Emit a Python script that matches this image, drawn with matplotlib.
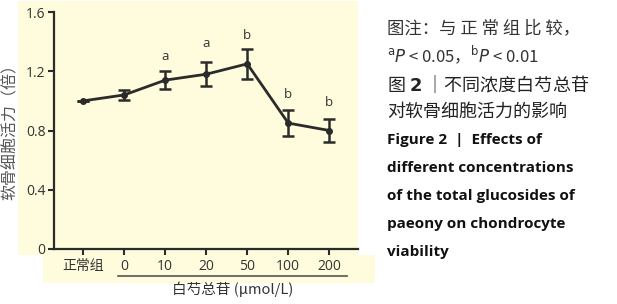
import matplotlib
matplotlib.use("Agg")
import matplotlib.pyplot as plt
from matplotlib.patches import Rectangle
from matplotlib.lines import Line2D

plt.rcParams['font.family'] = ['Noto Sans CJK SC', 'DejaVu Sans']

categories = ["正常组", "0", "10", "20", "50", "100", "200"]
values = [1.00, 1.04, 1.14, 1.18, 1.25, 0.85, 0.80]
errors = [0.0, 0.035, 0.06, 0.08, 0.10, 0.09, 0.08]
sig_labels = ["", "", "a", "a", "b", "b", "b"]
sig_y = [None, None, 1.30, 1.39, 1.44, 1.04, 0.99]
yticks = [0, 0.4, 0.8, 1.2, 1.6]
ytick_labels = ["0", "0.4", "0.8", "1.2", "1.6"]

W, H = 617, 304
fig = plt.figure(figsize=(W / 100, H / 100), dpi=100)
fig.patch.set_facecolor("white")

def fx(px):
    return px / W

def fy(py):
    return 1 - py / H

yellow = "#fefcdc"
# background panels
fig.patches.append(Rectangle((fx(18), fy(255)), fx(358) - fx(18), fy(1) - fy(255),
                             transform=fig.transFigure, facecolor=yellow, edgecolor="none", zorder=-10))
fig.patches.append(Rectangle((fx(43), fy(283)), fx(375) - fx(43), fy(255) - fy(283),
                             transform=fig.transFigure, facecolor=yellow, edgecolor="none", zorder=-10))

ax = fig.add_axes([fx(54), fy(249), fx(358) - fx(54), fy(12) - fy(249)])
ax.set_facecolor("none")
ax.set_zorder(5)
dark = "#2b2b2b"
txt = "#333333"

x = list(range(len(categories)))
ax.errorbar(x, values, yerr=errors, color=dark, lw=2.0, elinewidth=1.8,
            capsize=4, capthick=1.8, marker="o", markersize=4, zorder=3)
for xi, lab, yy in zip(x, sig_labels, sig_y):
    if lab:
        ax.text(xi, yy, lab, ha="center", va="center", fontsize=9.5,
                family="Open Sans", color=txt)

ax.set_xlim(-0.71, 6.7)
ax.set_ylim(0, 1.6)
ax.set_yticks(yticks)
ax.set_yticklabels(ytick_labels, family="Open Sans", fontsize=10, color=txt)
ax.set_xticks(x)
ax.set_xticklabels(categories, fontsize=10, color=txt, family=["Open Sans", "Noto Sans CJK SC"])
for s in ["top", "right"]:
    ax.spines[s].set_visible(False)
for s in ["left", "bottom"]:
    ax.spines[s].set_color(dark)
    ax.spines[s].set_linewidth(1.6)
ax.tick_params(axis="both", direction="out", length=4, width=1.5, color=dark, pad=2)
ax.tick_params(axis="x", pad=3)

fig.text(fx(10), fy(128), "软骨细胞活力（倍）", rotation=90, fontsize=11.5, color="#555555",
         ha="center", va="center")

# underline and x label
fig.add_artist(Line2D([fx(118), fx(347)], [fy(276), fy(276)], transform=fig.transFigure,
                      color="#555555", lw=1.2))
fig.text(fx(233), fy(289), "白芍总苷 (μmol/L)", ha="center", va="center", fontsize=10.5,
         color=txt, family=["Noto Sans CJK SC", "DejaVu Sans"])

# right side caption
x0 = fx(387)
fig.text(x0, fy(28), "图注：与 正 常 组 比 较，", fontsize=12.5, color=txt, va="center", ha="left")
fig.text(x0, fy(55), r"$^{\mathrm{a}}$$\it{P}$ < 0.05，$^{\mathrm{b}}$$\it{P}$ < 0.01", fontsize=12,
         color=txt, va="center", ha="left")
fig.text(x0, fy(84), "图 $\\mathbf{2}$ ｜不同浓度白芍总苷", fontsize=13, color="#222222", va="center", ha="left")
fig.text(x0, fy(112), "对软骨细胞活力的影响", fontsize=13, color="#222222", va="center", ha="left")
eng = ["Figure 2  |  Effects of", "different concentrations", "of the total glucosides of",
       "paeony on chondrocyte", "viability"]
eng_y = [140, 168, 196, 224, 252]
for t, yy in zip(eng, eng_y):
    fig.text(x0, fy(yy), t, fontsize=11, fontweight="bold", family="Open Sans",
             color="#111111", va="center", ha="left")

fig.savefig("out.png", dpi=100)
